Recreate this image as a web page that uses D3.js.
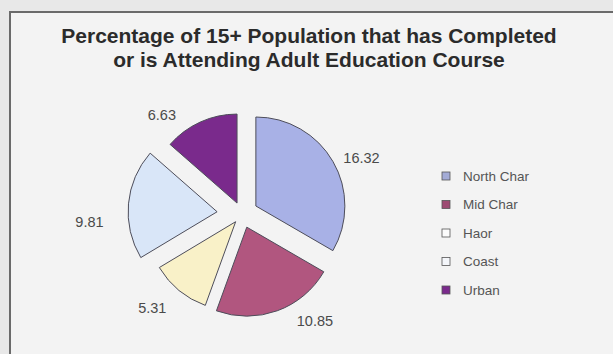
<!DOCTYPE html>
<html>
<head>
<meta charset="utf-8">
<script src="https://cdn.jsdelivr.net/npm/d3@7"></script>
<style>
  html, body { margin: 0; padding: 0; background: #e8e8e8; }
  svg { display: block; }
</style>
</head>
<body>
<svg id="chart" width="613" height="354"></svg>
<script>
// Share of the 15+ population that has completed or is attending an adult education course, by region
const categories = ["North Char", "Mid Char", "Haor", "Coast", "Urban"];
const values = [16.32, 10.85, 5.31, 9.81, 6.63];
const titleLines = [
  "Percentage of 15+ Population that has Completed",
  "or is Attending Adult Education Course"
];

// styling
const fills = ["#a8b1e6", "#b1567f", "#f9f1c8", "#d9e6f8", "#7a2a8c"];
const legendFills = ["#a3abd6", "#9d4b72", "#fbfbfb", "#f4f6fa", "#7a2a8c"];
const explode = [16, 14, 10, 25, 12];          // slice pull-out, px
const labelTurn = [5.5, -16, 4.5, -9.5, -16];  // label angle tweak, degrees
const labelExtra = [0, 0, 4, 12, 0];           // extra label distance, px

const W = 613, H = 354;
const svg = d3.select("#chart");
const font = "Liberation Sans, Arial, sans-serif";

// panel with frame
svg.append("rect").attr("x", 0).attr("y", 0).attr("width", W).attr("height", H).attr("fill", "#e8e8e8");
svg.append("rect")
  .attr("x", 10).attr("y", 12).attr("width", 640).attr("height", 400)
  .attr("fill", "#f3f3f3").attr("stroke", "#6a6a6a").attr("stroke-width", 2);

// title
const title = svg.append("text")
  .attr("text-anchor", "middle")
  .attr("font-family", font)
  .attr("font-weight", "bold")
  .attr("font-size", 21)
  .attr("fill", "#2b2b2b");
titleLines.forEach((t, i) => {
  title.append("tspan").attr("x", 309).attr("y", 43 + i * 24).text(t);
});

// pie
const cx = 242, cy = 214, r = 89;
const pie = d3.pie().sort(null).value(d => d).startAngle(0).endAngle(2 * Math.PI);
const arcs = pie(values);
const arc = d3.arc().innerRadius(0).outerRadius(r);

const g = svg.append("g").attr("transform", `translate(${cx},${cy})`);

const slices = g.selectAll("g.slice").data(arcs).enter().append("g")
  .attr("class", "slice")
  .attr("transform", (d, i) => {
    const a = (d.startAngle + d.endAngle) / 2;
    return `translate(${Math.sin(a) * explode[i]},${-Math.cos(a) * explode[i]})`;
  });

slices.append("path")
  .attr("d", arc)
  .attr("fill", (d, i) => fills[i])
  .attr("stroke", "#4d4d5a")
  .attr("stroke-width", 1);

// value labels outside each slice
slices.append("text")
  .attr("transform", (d, i) => {
    const a = (d.startAngle + d.endAngle) / 2 + labelTurn[i] * Math.PI / 180;
    const L = r + 27 + labelExtra[i];
    return `translate(${Math.sin(a) * L},${-Math.cos(a) * L})`;
  })
  .attr("text-anchor", "middle")
  .attr("dominant-baseline", "central")
  .attr("font-family", font)
  .attr("font-size", 14.5)
  .attr("fill", "#4a4a4a")
  .text(d => d.data.toFixed(2));

// legend
const legend = svg.append("g").attr("transform", "translate(442,176)");
const rows = legend.selectAll("g").data(categories).enter().append("g")
  .attr("transform", (d, i) => `translate(0,${i * 28.5})`);
rows.append("rect")
  .attr("x", 0).attr("y", -4).attr("width", 8).attr("height", 8)
  .attr("fill", (d, i) => legendFills[i])
  .attr("stroke", "#555").attr("stroke-width", 0.8);
rows.append("text")
  .attr("x", 21).attr("y", 0)
  .attr("dominant-baseline", "central")
  .attr("font-family", font)
  .attr("font-size", 13.5)
  .attr("fill", "#555")
  .text(d => d);
</script>
</body>
</html>
